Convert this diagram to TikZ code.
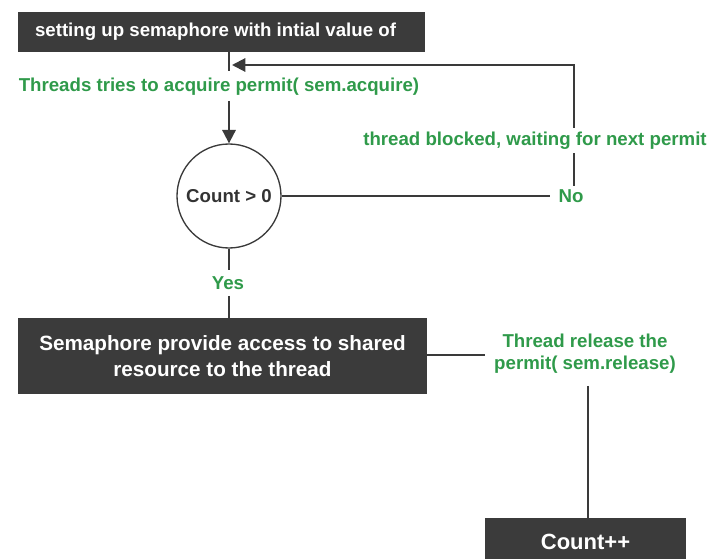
\documentclass[tikz,border=0pt]{standalone}
\usepackage{fontspec}
\setmainfont{Liberation Sans}
\usetikzlibrary{arrows.meta}
\definecolor{boxgray}{HTML}{3B3B3B}
\definecolor{linegray}{HTML}{3A3A3A}
\definecolor{lblgreen}{HTML}{2F9A4A}
\begin{document}
\begin{tikzpicture}[x=0.75pt,y=-0.75pt,
  darkbox/.style={rectangle,fill=boxgray,text=white,font=\bfseries,inner sep=0pt,align=center},
  lbl/.style={text=lblgreen,font=\bfseries\fontsize{14}{16.5}\selectfont,inner sep=0pt,align=center},
  conn/.style={draw=linegray,line width=1.5pt},
  arr/.style={conn,-{Triangle[length=10pt,width=10pt]}}]
\useasboundingbox (0,0) rectangle (711,559);
\node[darkbox,minimum width=305.25pt,minimum height=30pt,font=\bfseries\fontsize{14}{16}\selectfont] (top) at (221.5,32) {setting up semaphore with intial value of\hspace*{9pt}};
\node[lbl] (acq) at (219,87) {Threads tries to acquire permit( sem.acquire)};
\node[circle,draw=linegray,line width=1pt,minimum size=78pt,inner sep=0pt,font=\bfseries\fontsize{14}{16}\selectfont,text=black!80] (circ) at (229,196) {Count > 0};
\node[lbl] (no) at (571,196) {No};
\node[lbl] (blocked) at (535,141) {thread blocked, waiting for next permit};
\node[lbl] (yes) at (228,283) {Yes};
\node[darkbox,minimum width=306.75pt,minimum height=57pt,font=\bfseries\fontsize{15.5}{20}\selectfont] (mid) at (222.5,356) {Semaphore provide access to shared\\resource to the thread};
\node[lbl] (rel) at (585,354) {Thread release the\\permit( sem.release)};
\node[darkbox,minimum width=150.75pt,minimum height=36pt,font=\bfseries\fontsize{16.5}{19}\selectfont] (cnt) at (585.5,542) {Count++};
\coordinate (a1) at (229,71);
\coordinate (a2) at (229,101);
\coordinate (ret) at (232,65);
\coordinate (r1) at (574,65);
\coordinate (r2) at (574,128);
\coordinate (r3) at (574,153);
\coordinate (r4) at (574,186);
\coordinate (y1) at (229,270);
\coordinate (y2) at (229,296);
\coordinate (m1) at (485,355);
\coordinate (c1) at (588,386);
\draw[conn] (top.south -| circ) -- (a1);
\draw[arr] (a2) -- (circ.north);
\draw[conn] (circ.east) -- ([xshift=-6pt]no.west);
\draw[conn] (r4) -- (r3);
\draw[arr] (r2) -- (r1) -- (ret);
\draw[conn] (circ.south) -- (y1);
\draw[conn] (y2) -- (mid.north -| circ);
\draw[conn] (mid.east |- m1) -- (m1);
\draw[conn] (c1) -- (cnt.north -| c1);
\end{tikzpicture}
\end{document}
